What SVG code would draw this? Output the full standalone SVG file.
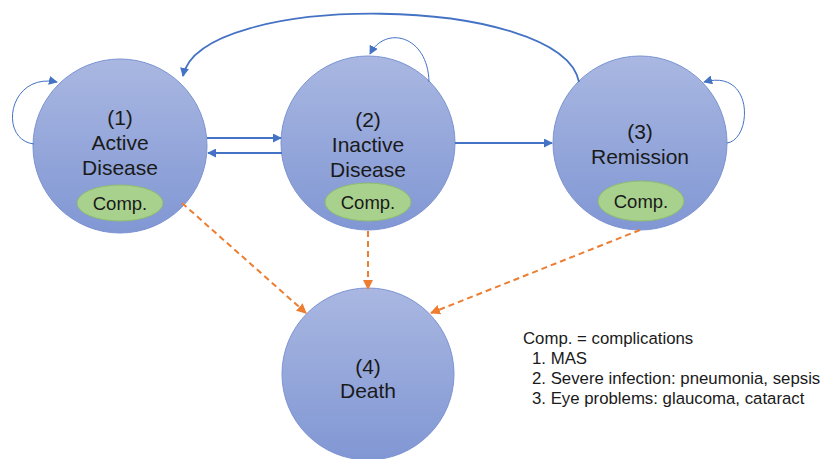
<svg xmlns="http://www.w3.org/2000/svg" width="822" height="459" viewBox="0 0 822 459">
<style>
.state{stroke:#7b93d3;stroke-width:1;fill:url(#g)}
.comp{fill:#a9d18e;stroke:#8dbd6e;stroke-width:1}
.t{font-family:"Liberation Sans",Arial,sans-serif;fill:#1a1a1a;text-anchor:middle}
.big{font-size:21px}
.small{font-size:18.5px}
.leg{font-family:"Liberation Sans",Arial,sans-serif;fill:#1a1a1a;font-size:16.8px}
.blue{fill:none;stroke:#4472c4;stroke-width:1.8}
.thin{fill:none;stroke:#4472c4;stroke-width:1}
.dash{fill:none;stroke:#ed7d31;stroke-width:2;stroke-dasharray:6 4}
</style>
<defs>
<linearGradient id="g" x1="0" y1="0" x2="0" y2="1">
<stop offset="0" stop-color="#a9b7e1"/>
<stop offset="1" stop-color="#8197d4"/>
</linearGradient>
<marker id="ab" viewBox="0 0 10 10" refX="9" refY="5" markerWidth="9" markerHeight="9" markerUnits="userSpaceOnUse" orient="auto">
<path d="M0,0 L10,5 L0,10 z" fill="#4472c4"/>
</marker>
<marker id="ao" viewBox="0 0 10 10" refX="9" refY="5" markerWidth="10" markerHeight="10" markerUnits="userSpaceOnUse" orient="auto">
<path d="M0,0 L10,5 L0,10 z" fill="#ed7d31"/>
</marker>
</defs>
<g id="n1">
<circle class="state" cx="120" cy="146" r="87"/>
<text class="t big" x="120" y="125">(1)</text>
<text class="t big" x="120" y="150">Active</text>
<text class="t big" x="120" y="175">Disease</text>
<ellipse class="comp" cx="120" cy="203" rx="43" ry="18"/>
<text class="t small" x="120" y="210">Comp.</text>
</g>
<g id="n2">
<circle class="state" cx="368" cy="143" r="87"/>
<text class="t big" x="368" y="127">(2)</text>
<text class="t big" x="368" y="152">Inactive</text>
<text class="t big" x="368" y="177">Disease</text>
<ellipse class="comp" cx="368" cy="202" rx="43" ry="19"/>
<text class="t small" x="368" y="209">Comp.</text>
</g>
<g id="n3">
<circle class="state" cx="640" cy="143" r="87"/>
<text class="t big" x="640" y="139">(3)</text>
<text class="t big" x="640" y="164">Remission</text>
<ellipse class="comp" cx="641" cy="201" rx="43" ry="20"/>
<text class="t small" x="641" y="208">Comp.</text>
</g>
<g id="n4">
<circle class="state" cx="368" cy="374" r="86"/>
<text class="t big" x="368" y="374">(4)</text>
<text class="t big" x="368" y="398">Death</text>
</g>
<g id="connectors">
<path class="blue" d="M579,82 C562,-6 200,-10 183,76" marker-end="url(#ab)"/>
<path class="blue" d="M207,138 L281,138" marker-end="url(#ab)"/>
<path class="blue" d="M282,153 L208,153" marker-end="url(#ab)"/>
<path class="blue" d="M455,143 L552,143" marker-end="url(#ab)"/>
<path class="thin" d="M34,144 C-2,140 8,72 57,82" marker-end="url(#ab)"/>
<path class="thin" d="M429,82 C428,35 385,25 370,54" marker-end="url(#ab)"/>
<path class="thin" d="M727,143 C752,140 755,68 704,82" marker-end="url(#ab)"/>
<path class="dash" d="M182,203 L306,313" marker-end="url(#ao)"/>
<path class="dash" d="M368,231 L368,289" marker-end="url(#ao)"/>
<path class="dash" d="M640,230 L431,313" marker-end="url(#ao)"/>
</g>
<g id="legend">
<text class="leg" x="523" y="344">Comp. = complications</text>
<text class="leg" x="532" y="364">1. MAS</text>
<text class="leg" x="532" y="384">2. Severe infection: pneumonia, sepsis</text>
<text class="leg" x="532" y="404">3. Eye problems: glaucoma, cataract</text>
</g>
</svg>
